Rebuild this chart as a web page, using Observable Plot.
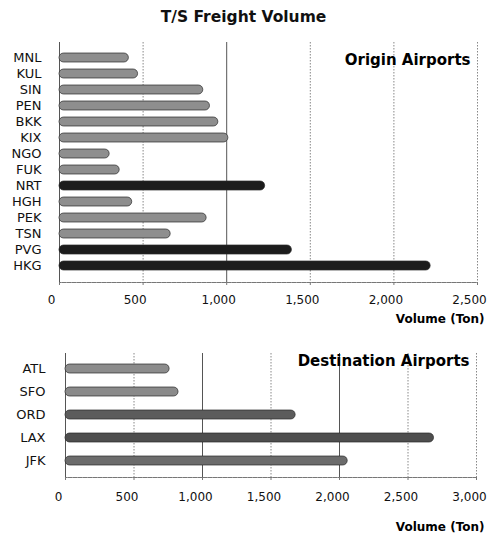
<!DOCTYPE html>
<html><head><meta charset="utf-8">
<script src="https://cdn.jsdelivr.net/npm/d3@7"></script>
<script src="https://cdn.jsdelivr.net/npm/@observablehq/plot@0.6"></script>
<style>
body{margin:0;background:#fff;font-family:"DejaVu Sans",sans-serif;}
#title{height:30px;line-height:34px;text-align:center;font-weight:bold;font-size:15.5px;color:#111;}
svg{display:block}
</style></head><body>
<div id="title">T/S Freight Volume</div>
<div id="c1"></div><div id="c2"></div>
<script>
const originAirports = ["MNL","KUL","SIN","PEN","BKK","KIX","NGO","FUK","NRT","HGH","PEK","TSN","PVG","HKG"];
const originVolume = [415,470,860,900,950,1010,300,360,1230,435,880,665,1390,2220];
const darkOrigins = ["NRT","PVG","HKG"];
const originTicks = [0,500,1000,1500,2000,2500];

const destAirports = ["ATL","SFO","ORD","LAX","JFK"];
const destVolume = [760,825,1680,2690,2060];
const destTicks = [0,500,1000,1500,2000,2500,3000];

const fmt = d3.format(",");
const origin = originAirports.map((a,i)=>({airport:a, volume:originVolume[i]}));
const dest = destAirports.map((a,i)=>({airport:a, volume:destVolume[i]}));
const destFill = {ATL:"#8c8c8c", SFO:"#8a8a8a", ORD:"#5c5c5c", LAX:"#4e4e4e", JFK:"#6c6c6c"};

const p1 = Plot.plot({
  width:487, height:310, marginLeft:59, marginRight:10, marginTop:12, marginBottom:58,
  style:{fontFamily:"DejaVu Sans", fontSize:"13px", background:"white", color:"#111"},
  x:{domain:[0,2500], axis:null, label:null},
  y:{domain:originAirports, paddingInner:0.42, paddingOuter:0.465, axis:null},
  color:{type:"identity"},
  marks:[
    Plot.ruleX([500,1500,2000,2500], {stroke:"#888", strokeDasharray:"1.5,1.5"}),
    Plot.ruleX([1000], {stroke:"#555"}),
    Plot.ruleX([0], {stroke:"#555"}),
    Plot.frame({anchor:"bottom", stroke:"#777", strokeDasharray:"1.5,1"}),
    Plot.axisX({ticks:originTicks, tickSize:3, tickFormat:()=>"", label:null, stroke:"#777"}),
    Plot.barX(origin, {x:"volume", y:"airport", fill:d=>darkOrigins.includes(d.airport)?"#1c1c1c":"#8e8e8e", stroke:"#2a2a2a", strokeWidth:0.7, rx:4.5}),
    Plot.text(originAirports, {y:d=>d, frameAnchor:"left", dx:-18, textAnchor:"end", fill:"#111"}),
    Plot.text(originTicks, {x:d=>d, frameAnchor:"bottom", dy:21, dx:-8, text:d=>fmt(d), fontSize:12, fill:"#111"}),
    Plot.text(["Origin Airports"], {frameAnchor:"top-right", dx:-7, dy:12, textAnchor:"end", lineAnchor:"top", fontWeight:"bold", fontSize:15, fill:"#000"}),
    Plot.text(["Volume (Ton)"], {frameAnchor:"bottom-right", dx:7, dy:40, textAnchor:"end", fontWeight:"bold", fontSize:12, fill:"#000"})
  ]
});
document.getElementById("c1").append(p1);

const p2 = Plot.plot({
  width:487, height:203, marginLeft:65, marginRight:11, marginTop:13, marginBottom:66,
  style:{fontFamily:"DejaVu Sans", fontSize:"13px", background:"white", color:"#111"},
  x:{domain:[0,3000], axis:null, label:null},
  y:{domain:destAirports, paddingInner:0.6, paddingOuter:0.467, axis:null},
  color:{type:"identity"},
  marks:[
    Plot.ruleX([500,1500,2500,3000], {stroke:"#888", strokeDasharray:"1.5,1.5"}),
    Plot.ruleX([1000,2000], {stroke:"#555"}),
    Plot.ruleX([0], {stroke:"#555"}),
    Plot.frame({anchor:"bottom", stroke:"#777", strokeDasharray:"1.5,1"}),
    Plot.axisX({ticks:destTicks, tickSize:3, tickFormat:()=>"", label:null, stroke:"#777"}),
    Plot.barX(dest, {x:"volume", y:"airport", fill:d=>destFill[d.airport], stroke:"#2a2a2a", strokeWidth:0.7, rx:4.5}),
    Plot.text(destAirports, {y:d=>d, frameAnchor:"left", dx:-20, textAnchor:"end", fill:"#111"}),
    Plot.text(destTicks, {x:d=>d, frameAnchor:"bottom", dy:23, dx:-7, text:d=>fmt(d), fontSize:12, fill:"#111"}),
    Plot.text(["Destination Airports"], {frameAnchor:"top-right", dx:-7, dy:2, textAnchor:"end", lineAnchor:"top", fontWeight:"bold", fontSize:15, fill:"#000"}),
    Plot.text(["Volume (Ton)"], {frameAnchor:"bottom-right", dx:8, dy:53, textAnchor:"end", fontWeight:"bold", fontSize:12, fill:"#000"})
  ]
});
document.getElementById("c2").append(p2);
</script>
</body></html>
